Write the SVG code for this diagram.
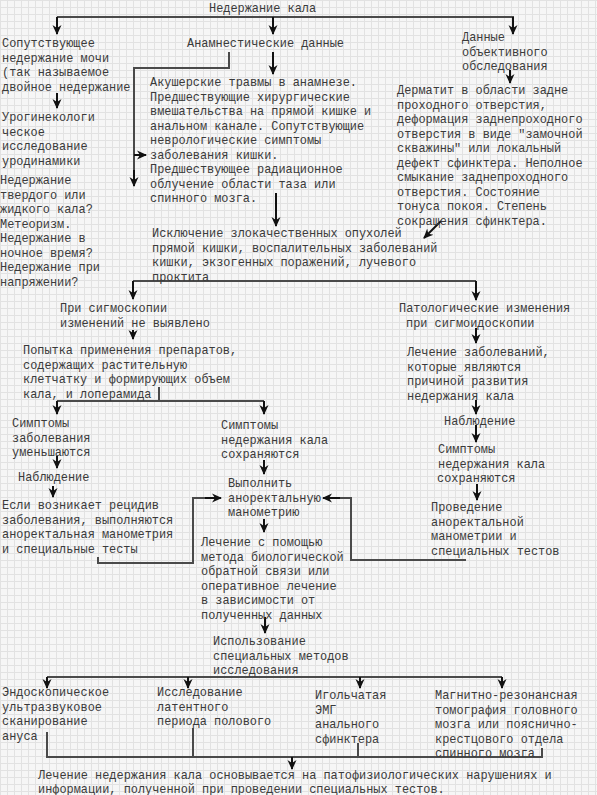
<svg xmlns="http://www.w3.org/2000/svg" width="597" height="795" viewBox="0 0 597 795">
<style>
text{font-family:"Liberation Mono","Courier New",monospace;font-size:11.9px;fill:#3a3a3a}
.ln{fill:none;stroke:#4a4a4a;stroke-width:2}
.ar{fill:none;stroke:#111;stroke-width:2;marker-end:url(#ah)}
</style>
<defs>
<pattern id="grid" width="7" height="7" patternUnits="userSpaceOnUse">
<rect width="7" height="7" fill="#f6f6f6"/>
<path d="M0,0.5H7M0.5,0V7" stroke="#e2e2e2" stroke-width="1"/>
</pattern>
<marker id="ah" markerUnits="userSpaceOnUse" markerWidth="10" markerHeight="10" viewBox="0 0 10 10" refX="9" refY="5" orient="auto">
<path d="M0,0.5 L10,5 L0,9.5 L3,5 z" fill="#111"/>
</marker>
</defs>
<rect width="597" height="795" fill="url(#grid)"/>

<g id="connectors">
<path class="ln" d="M57,17H514"/>
<path class="ar" d="M57,17V34"/>
<path class="ar" d="M273,17V34"/>
<path class="ar" d="M513,17V34"/>
<path class="ar" d="M57,93V108"/>
<path class="ar" d="M273,52V74"/>
<path class="ln" d="M229,52V68H134V176"/>
<path class="ar" d="M134,170V186"/>
<path class="ar" d="M134,155H146"/>
<path class="ar" d="M510,70V83"/>
<path class="ar" d="M276,193V226"/>
<path class="ar" d="M441,221L424,238"/>
<path class="ln" d="M133,281H476"/>
<path class="ar" d="M133,281V299"/>
<path class="ar" d="M476,281V300"/>
<path class="ar" d="M133,330V339"/>
<path class="ln" d="M159,387V401M57,401H264"/>
<path class="ar" d="M57,401V414"/>
<path class="ar" d="M264,401V414"/>
<path class="ar" d="M57,456V468"/>
<path class="ar" d="M53,486V497"/>
<path class="ln" d="M98,557V563H193V498H210"/>
<path class="ar" d="M205,498H221"/>
<path class="ar" d="M264,460V474"/>
<path class="ar" d="M264,519V532"/>
<path class="ln" d="M466,560H351V498H335"/>
<path class="ar" d="M340,498H323"/>
<path class="ar" d="M476,328V343"/>
<path class="ar" d="M476,400V414"/>
<path class="ar" d="M476,425V442"/>
<path class="ar" d="M477,484V500"/>
<path class="ar" d="M265,617V633"/>
<path class="ln" d="M47,677H502"/>
<path class="ar" d="M47,677V688"/>
<path class="ar" d="M188,677V688"/>
<path class="ar" d="M360,677V688"/>
<path class="ar" d="M502,677V688"/>
<path class="ln" d="M47,732V757H542V748M193,728V757M358,743V757"/>
<path class="ar" d="M292,757V769"/>
</g>

<g id="n-root"><text x="209" y="12">Недержание кала</text></g>

<g id="n-soput">
<text x="2" y="47">Сопутствующее</text>
<text x="2" y="61.5">недержание мочи</text>
<text x="2" y="76">(так называемое</text>
<text x="2" y="90.5">двойное недержание</text>
</g>

<g id="n-urogin">
<text x="2" y="121">Урогинекологи</text>
<text x="2" y="135.5">ческое</text>
<text x="2" y="150">исследование</text>
<text x="2" y="164.5">уродинамики</text>
</g>

<g id="n-questions">
<text x="0" y="184">Недержание</text>
<text x="0" y="198.5">твердого или</text>
<text x="0" y="213">жидкого кала?</text>
<text x="0" y="227.5">Метеоризм.</text>
<text x="0" y="242">Недержание в</text>
<text x="0" y="256.5">ночное время?</text>
<text x="0" y="271">Недержание при</text>
<text x="0" y="285.5">напряжении?</text>
</g>

<g id="n-anamn"><text x="187" y="47">Анамнестические данные</text></g>

<g id="n-akush">
<text x="150" y="86">Акушерские травмы в анамнезе.</text>
<text x="150" y="100.5">Предшествующие хирургические</text>
<text x="150" y="115">вмешательства на прямой кишке и</text>
<text x="150" y="129.5">анальном канале. Сопутствующие</text>
<text x="150" y="144">неврологические симптомы</text>
<text x="150" y="158.5">заболевания кишки.</text>
<text x="150" y="173">Предшествующее радиационное</text>
<text x="150" y="187.5">облучение области таза или</text>
<text x="150" y="202">спинного мозга.</text>
</g>

<g id="n-dannye">
<text x="462" y="41">Данные</text>
<text x="462" y="55.5">объективного</text>
<text x="462" y="70">обследования</text>
</g>

<g id="n-dermatit">
<text x="397" y="94">Дерматит в области задне</text>
<text x="397" y="108.5">проходного отверстия,</text>
<text x="397" y="123">деформация заднепроходного</text>
<text x="397" y="137.5">отверстия в виде "замочной</text>
<text x="397" y="152">скважины" или локальный</text>
<text x="397" y="166.5">дефект сфинктера. Неполное</text>
<text x="397" y="181">смыкание заднепроходного</text>
<text x="397" y="195.5">отверстия. Состояние</text>
<text x="397" y="210">тонуса покоя. Степень</text>
<text x="397" y="224.5">сокращения сфинктера.</text>
</g>

<g id="n-isklyuch">
<text x="152" y="237">Исключение злокачественных опухолей</text>
<text x="152" y="251.5">прямой кишки, воспалительных заболеваний</text>
<text x="152" y="266">кишки, экзогенных поражений, лучевого</text>
<text x="152" y="280.5">проктита</text>
</g>

<g id="n-sigmo-no">
<text x="60" y="312">При сигмоскопии</text>
<text x="60" y="326.5">изменений не выявлено</text>
</g>

<g id="n-popytka">
<text x="23" y="354">Попытка применения препаратов,</text>
<text x="23" y="368.5">содержащих растительную</text>
<text x="23" y="383">клетчатку и формирующих объем</text>
<text x="23" y="397.5">кала, и лоперамида</text>
</g>

<g id="n-umensh">
<text x="12" y="427">Симптомы</text>
<text x="12" y="441.5">заболевания</text>
<text x="12" y="456">уменьшаются</text>
</g>

<g id="n-nabl1"><text x="18" y="481">Наблюдение</text></g>

<g id="n-recidiv">
<text x="2" y="509">Если возникает рецидив</text>
<text x="2" y="523.5">заболевания, выполняются</text>
<text x="2" y="538">аноректальная манометрия</text>
<text x="2" y="552.5">и специальные тесты</text>
</g>

<g id="n-sohr1">
<text x="221" y="429">Симптомы</text>
<text x="221" y="443.5">недержания кала</text>
<text x="221" y="458">сохраняются</text>
</g>

<g id="n-vypolnit">
<text x="228" y="487">Выполнить</text>
<text x="228" y="501.5">аноректальную</text>
<text x="228" y="516">манометрию</text>
</g>

<g id="n-lechenie-pom">
<text x="201" y="546">Лечение с помощью</text>
<text x="201" y="560.5">метода биологической</text>
<text x="201" y="575">обратной связи или</text>
<text x="201" y="589.5">оперативное лечение</text>
<text x="201" y="604">в зависимости от</text>
<text x="201" y="618.5">полученных данных</text>
</g>

<g id="n-patol">
<text x="399" y="312">Патологические изменения</text>
<text x="406" y="326.5">при сигмоидоскопии</text>
</g>

<g id="n-lech-zab">
<text x="407" y="356">Лечение заболеваний,</text>
<text x="407" y="370.5">которые являются</text>
<text x="407" y="385">причиной развития</text>
<text x="407" y="399.5">недержания кала</text>
</g>

<g id="n-nabl2"><text x="444" y="425">Наблюдение</text></g>

<g id="n-sohr2">
<text x="438" y="453">Симптомы</text>
<text x="438" y="467.5">недержания кала</text>
<text x="437" y="482">сохраняются</text>
</g>

<g id="n-provedenie">
<text x="431" y="511">Проведение</text>
<text x="431" y="525.5">аноректальной</text>
<text x="431" y="540">манометрии и</text>
<text x="431" y="554.5">специальных тестов</text>
</g>

<g id="n-ispolz">
<text x="213" y="645">Использование</text>
<text x="213" y="659.5">специальных методов</text>
<text x="213" y="674">исследования</text>
</g>

<g id="n-endo">
<text x="2" y="696">Эндоскопическое</text>
<text x="2" y="710.5">ультразвуковое</text>
<text x="2" y="725">сканирование</text>
<text x="2" y="739.5">ануса</text>
</g>

<g id="n-latent">
<text x="157" y="696">Исследование</text>
<text x="157" y="710.5">латентного</text>
<text x="157" y="725">периода полового</text>
</g>

<g id="n-emg">
<text x="315" y="699">Игольчатая</text>
<text x="315" y="713.5">ЭМГ</text>
<text x="315" y="728">анального</text>
<text x="315" y="742.5">сфинктера</text>
</g>

<g id="n-mrt">
<text x="435" y="699">Магнитно-резонансная</text>
<text x="435" y="713.5">томография головного</text>
<text x="435" y="728">мозга или пояснично-</text>
<text x="435" y="742.5">крестцового отдела</text>
<text x="435" y="757">спинного мозга</text>
</g>

<g id="n-final">
<text x="38" y="779">Лечение недержания кала основывается на патофизиологических нарушениях и</text>
<text x="38" y="792.5">информации, полученной при проведении специальных тестов.</text>
</g>
</svg>
